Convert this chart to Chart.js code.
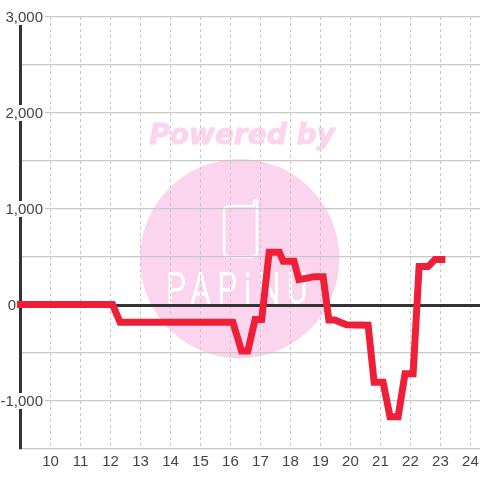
<!DOCTYPE html>
<html>
<head>
<meta charset="utf-8">
<script src="https://cdn.jsdelivr.net/npm/chart.js@4"></script>
<style>
  html, body { margin: 0; padding: 0; background: #fff; }
  canvas { display: block; }
</style>
</head>
<body>
<canvas id="lineChart" width="480" height="480"></canvas>
<script>
const hours = [9, 12.07, 12.32, 16.08, 16.37, 16.58, 16.82, 17.04, 17.29, 17.63, 17.76, 18.12, 18.28, 18.56, 18.79, 19.09, 19.28, 19.48, 19.62, 19.87, 20.59, 20.79, 21.09, 21.32, 21.59, 21.82, 22.09, 22.29, 22.59, 22.82, 23.05];
const values = [5, 5, -180, -180, -480, -480, -150, -150, 550, 550, 455, 455, 265, 280, 295, 295, -155, -155, -175, -205, -210, -805, -805, -1165, -1165, -715, -715, 400, 400, 475, 475];
const xTicks = [10, 11, 12, 13, 14, 15, 16, 17, 18, 19, 20, 21, 22, 23, 24];
const yTicks = [-1500, -1000, -500, 0, 500, 1000, 1500, 2000, 2500, 3000];
const yLabels = [-1000, 0, 1000, 2000, 3000];

const pink = "#fbd5ee";

const watermark = {
  id: "watermark",
  beforeDraw(chart) {
    const ctx = chart.ctx;
    ctx.save();
    ctx.fillStyle = pink;
    ctx.beginPath();
    ctx.arc(239.7, 258.7, 99.7, 0, Math.PI * 2);
    ctx.fill();

    ctx.textAlign = "center";
    ctx.textBaseline = "alphabetic";
    ctx.font = "italic bold 28px 'DejaVu Sans'";
    ctx.strokeStyle = pink;
    ctx.lineWidth = 1;
    ctx.fillText("Powered by", 242, 144);
    ctx.strokeText("Powered by", 242, 144);

    ctx.strokeStyle = "#ffffff";
    ctx.lineWidth = 2.5;
    ctx.beginPath();
    ctx.moveTo(254, 206);
    ctx.lineTo(254, 202);
    ctx.arc(255.5, 202, 1.5, Math.PI, 0);
    ctx.lineTo(257, 252);
    ctx.arcTo(257, 257, 252, 257, 5);
    ctx.lineTo(229, 257);
    ctx.arcTo(224, 257, 224, 252, 5);
    ctx.lineTo(224, 211);
    ctx.arcTo(224, 206, 229, 206, 5);
    ctx.lineTo(254, 206);
    ctx.stroke();

    ctx.fillStyle = "#ffffff";
    ctx.translate(240, 304);
    ctx.scale(0.72, 1);
    ctx.font = "400 44px Roboto";
    ctx.letterSpacing = "9px";
    ctx.fillText("PAPiNU", 0, 0);
    ctx.restore();
  },
  // y labels sit on top of the axis line, with a white box behind them
  afterDraw(chart) {
    const ctx = chart.ctx;
    const y = chart.scales.y;
    ctx.save();
    ctx.font = "15px 'Liberation Sans'";
    ctx.textAlign = "right";
    ctx.textBaseline = "middle";
    yLabels.forEach(function (v) {
      const py = y.getPixelForValue(v);
      if (v !== 0) {
        ctx.fillStyle = "#ffffff";
        ctx.fillRect(0, py - 8, 45, 16);
      }
      ctx.fillStyle = "#444444";
      ctx.fillText(v.toLocaleString("en-US"), v === 0 ? 16 : 43, py + 0.5);
    });
    ctx.restore();
  },
};

new Chart(document.getElementById("lineChart"), {
  type: "line",
  data: {
    datasets: [
      {
        data: hours.map((h, i) => ({ x: h, y: values[i] })),
        borderColor: "#ef1f37",
        borderWidth: 7,
        borderCapStyle: "square",
        borderJoinStyle: "miter",
        pointRadius: 0,
        tension: 0,
        clip: false,
      },
    ],
  },
  options: {
    responsive: false,
    animation: false,
    layout: { padding: { left: 20.5, top: 17, right: 0, bottom: 0 } },
    plugins: { legend: { display: false }, tooltip: { enabled: false } },
    scales: {
      x: {
        type: "linear",
        min: 9,
        max: 24.32,
        afterBuildTicks: (axis) => {
          axis.ticks = xTicks.map((v) => ({ value: v }));
        },
        afterFit: (axis) => {
          axis.height = 31;
          axis.paddingRight = 0;
          axis.paddingLeft = 0;
        },
        grid: { color: "#c8c8c8", lineWidth: 1, drawTicks: false },
        border: { display: false, dash: [3, 3] },
        ticks: {
          color: "#444444",
          font: { family: "Liberation Sans", size: 15 },
          padding: 4,
          maxRotation: 0,
          autoSkip: false,
          callback: (v) => String(v),
        },
      },
      y: {
        type: "linear",
        min: -1500,
        max: 3000,
        afterBuildTicks: (axis) => {
          axis.ticks = yTicks.map((v) => ({ value: v }));
        },
        afterFit: (axis) => {
          axis.width = 0;
        },
        grid: {
          color: (c) => (c.tick && c.tick.value === 0 ? "#333333" : "#c8c8c8"),
          lineWidth: (c) => (c.tick && c.tick.value === 0 ? 3 : 1.2),
          drawTicks: false,
        },
        border: { display: true, color: "#333333", width: 3 },
        ticks: { display: false },
      },
    },
  },
  plugins: [watermark],
});
</script>
</body>
</html>
